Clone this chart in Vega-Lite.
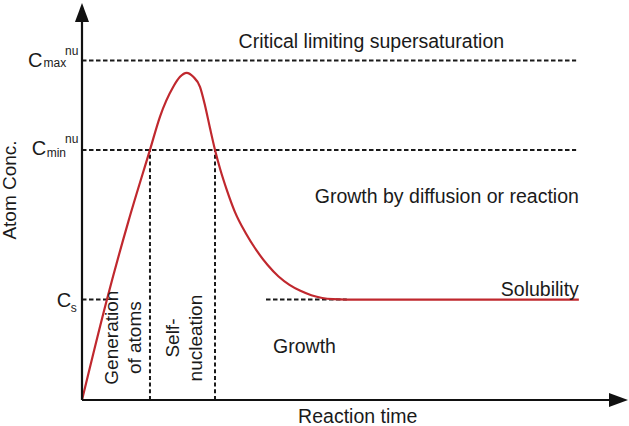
{
  "$schema": "https://vega.github.io/schema/vega-lite/v6.json",
  "width": 546,
  "height": 397,
  "autosize": {"type": "none"},
  "padding": {"left": 82, "top": 3, "right": 1, "bottom": 26},
  "background": "white",
  "config": {"view": {"stroke": null}, "text": {"font": "Liberation Sans", "color": "#1a1a1a"}},
  "datasets": {
    "curve": [
      {"t": 0, "c": 0}, {"t": 4.58, "c": 25.4}, {"t": 8.5, "c": 45.0}, {"t": 12.45, "c": 63.0},
      {"t": 14.29, "c": 71.4}, {"t": 16.72, "c": 78.9}, {"t": 17.95, "c": 81.4}, {"t": 19.17, "c": 82.4},
      {"t": 20.38, "c": 81.4}, {"t": 21.61, "c": 78.9}, {"t": 22.53, "c": 74.2}, {"t": 23.44, "c": 68.5},
      {"t": 24.36, "c": 63.0}, {"t": 25.3, "c": 58.2}, {"t": 26.5, "c": 53.0}, {"t": 28.0, "c": 47.4},
      {"t": 30.0, "c": 42.0}, {"t": 32.0, "c": 37.6}, {"t": 34.0, "c": 34.0}, {"t": 36.0, "c": 31.1},
      {"t": 38.0, "c": 29.0}, {"t": 40.0, "c": 27.5}, {"t": 42.0, "c": 26.4}, {"t": 44.0, "c": 25.7},
      {"t": 46.0, "c": 25.4}, {"t": 48.5, "c": 25.3}, {"t": 91.0, "c": 25.3}
    ],
    "hlines": [
      {"t0": 0, "t1": 90.5, "c": 85.5},
      {"t0": 0, "t1": 90.5, "c": 63.0},
      {"t0": 0, "t1": 4.6, "c": 25.3},
      {"t0": 33.7, "t1": 48.5, "c": 25.3}
    ],
    "vlines": [
      {"t": 12.45, "c0": 0, "c1": 63.0},
      {"t": 24.36, "c0": 0, "c1": 63.0}
    ],
    "axes": [
      {"t0": 0, "t1": 97, "c0": 0, "c1": 0},
      {"t0": 0, "t1": 0, "c0": 0, "c1": 96}
    ],
    "arrows": [
      {"t": 0, "c": 100, "dir": "up"},
      {"t": 100, "c": 0, "dir": "right"}
    ],
    "texts": [
      {"t": 53.0, "c": 88.7, "text": "Critical limiting supersaturation", "kind": "center"},
      {"t": 50.5, "c": -5.8, "text": "Reaction time", "kind": "center"},
      {"t": 91.0, "c": 49.5, "text": "Growth by diffusion or reaction", "kind": "right"},
      {"t": 91.0, "c": 26.2, "text": "Solubility", "kind": "right"},
      {"t": 35.0, "c": 11.9, "text": "Growth", "kind": "left"},
      {"t": -13.1, "c": 52.9, "text": "Atom Conc.", "kind": "ylabel"},
      {"t": 5.45, "c": 15.7, "text": "Generation\nof atoms", "kind": "block"},
      {"t": 16.6, "c": 15.6, "text": "Self-\nnucleation", "kind": "block"},
      {"t": -9.89, "c": 83.9, "text": "C", "kind": "C"},
      {"t": -7.05, "c": 83.9, "text": "max", "kind": "small"},
      {"t": -3.11, "c": 86.9, "text": "nu", "kind": "small"},
      {"t": -9.21, "c": 61.7, "text": "C", "kind": "C"},
      {"t": -6.47, "c": 61.2, "text": "min", "kind": "small"},
      {"t": -3.11, "c": 64.7, "text": "nu", "kind": "small"},
      {"t": -4.63, "c": 23.4, "text": "C", "kind": "C"},
      {"t": -2.07, "c": 22.2, "text": "s", "kind": "small"}
    ]
  },
  "resolve": {"scale": {"x": "shared", "y": "shared"}},
  "layer": [
    {
      "data": {"name": "hlines"},
      "mark": {"type": "rule", "color": "#1a1a1a", "strokeWidth": 2, "strokeDash": [4.5, 2.5]},
      "encoding": {
        "x": {"field": "t0", "type": "quantitative", "scale": {"domain": [0, 100], "nice": false, "zero": false}, "axis": null},
        "x2": {"field": "t1"},
        "y": {"field": "c", "type": "quantitative", "scale": {"domain": [0, 100], "nice": false, "zero": false}, "axis": null}
      }
    },
    {
      "data": {"name": "vlines"},
      "mark": {"type": "rule", "color": "#1a1a1a", "strokeWidth": 2, "strokeDash": [4, 2.7]},
      "encoding": {
        "x": {"field": "t", "type": "quantitative"},
        "y": {"field": "c0", "type": "quantitative"},
        "y2": {"field": "c1"}
      }
    },
    {
      "data": {"name": "curve"},
      "mark": {"type": "line", "color": "#c0282e", "strokeWidth": 2.2, "interpolate": "monotone"},
      "encoding": {
        "x": {"field": "t", "type": "quantitative"},
        "y": {"field": "c", "type": "quantitative"}
      }
    },
    {
      "data": {"name": "axes"},
      "mark": {"type": "rule", "color": "#111111", "strokeWidth": 2.2},
      "encoding": {
        "x": {"field": "t0", "type": "quantitative"},
        "x2": {"field": "t1"},
        "y": {"field": "c0", "type": "quantitative"},
        "y2": {"field": "c1"}
      }
    },
    {
      "data": {"name": "arrows"},
      "mark": {"type": "point", "filled": true, "color": "#111111", "opacity": 1, "size": 361},
      "encoding": {
        "x": {"field": "t", "type": "quantitative"},
        "y": {"field": "c", "type": "quantitative"},
        "shape": {"field": "dir", "type": "nominal", "legend": null,
          "scale": {"domain": ["up", "right"], "range": ["M0,0L-0.74,2L0.74,2Z", "M0,0L-2,-0.74L-2,0.74Z"]}}
      }
    },
    {
      "data": {"name": "texts"},
      "transform": [{"filter": "datum.kind === 'center'"}],
      "mark": {"type": "text", "fontSize": 19.5, "align": "center", "baseline": "alphabetic"},
      "encoding": {"x": {"field": "t", "type": "quantitative"}, "y": {"field": "c", "type": "quantitative"}, "text": {"field": "text"}}
    },
    {
      "data": {"name": "texts"},
      "transform": [{"filter": "datum.kind === 'right'"}],
      "mark": {"type": "text", "fontSize": 19.5, "align": "right", "baseline": "alphabetic"},
      "encoding": {"x": {"field": "t", "type": "quantitative"}, "y": {"field": "c", "type": "quantitative"}, "text": {"field": "text"}}
    },
    {
      "data": {"name": "texts"},
      "transform": [{"filter": "datum.kind === 'left'"}],
      "mark": {"type": "text", "fontSize": 19.5, "align": "left", "baseline": "alphabetic"},
      "encoding": {"x": {"field": "t", "type": "quantitative"}, "y": {"field": "c", "type": "quantitative"}, "text": {"field": "text"}}
    },
    {
      "data": {"name": "texts"},
      "transform": [{"filter": "datum.kind === 'ylabel'"}],
      "mark": {"type": "text", "fontSize": 19, "align": "center", "baseline": "middle", "angle": 270},
      "encoding": {"x": {"field": "t", "type": "quantitative"}, "y": {"field": "c", "type": "quantitative"}, "text": {"field": "text"}}
    },
    {
      "data": {"name": "texts"},
      "transform": [{"filter": "datum.kind === 'block'"}],
      "mark": {"type": "text", "fontSize": 19, "align": "center", "baseline": "middle", "angle": 270, "lineBreak": "\n", "lineHeight": 23},
      "encoding": {"x": {"field": "t", "type": "quantitative"}, "y": {"field": "c", "type": "quantitative"}, "text": {"field": "text"}}
    },
    {
      "data": {"name": "texts"},
      "transform": [{"filter": "datum.kind === 'C'"}],
      "mark": {"type": "text", "fontSize": 20, "align": "left", "baseline": "alphabetic"},
      "encoding": {"x": {"field": "t", "type": "quantitative"}, "y": {"field": "c", "type": "quantitative"}, "text": {"field": "text"}}
    },
    {
      "data": {"name": "texts"},
      "transform": [{"filter": "datum.kind === 'small'"}],
      "mark": {"type": "text", "fontSize": 12, "align": "left", "baseline": "alphabetic"},
      "encoding": {"x": {"field": "t", "type": "quantitative"}, "y": {"field": "c", "type": "quantitative"}, "text": {"field": "text"}}
    }
  ]
}
